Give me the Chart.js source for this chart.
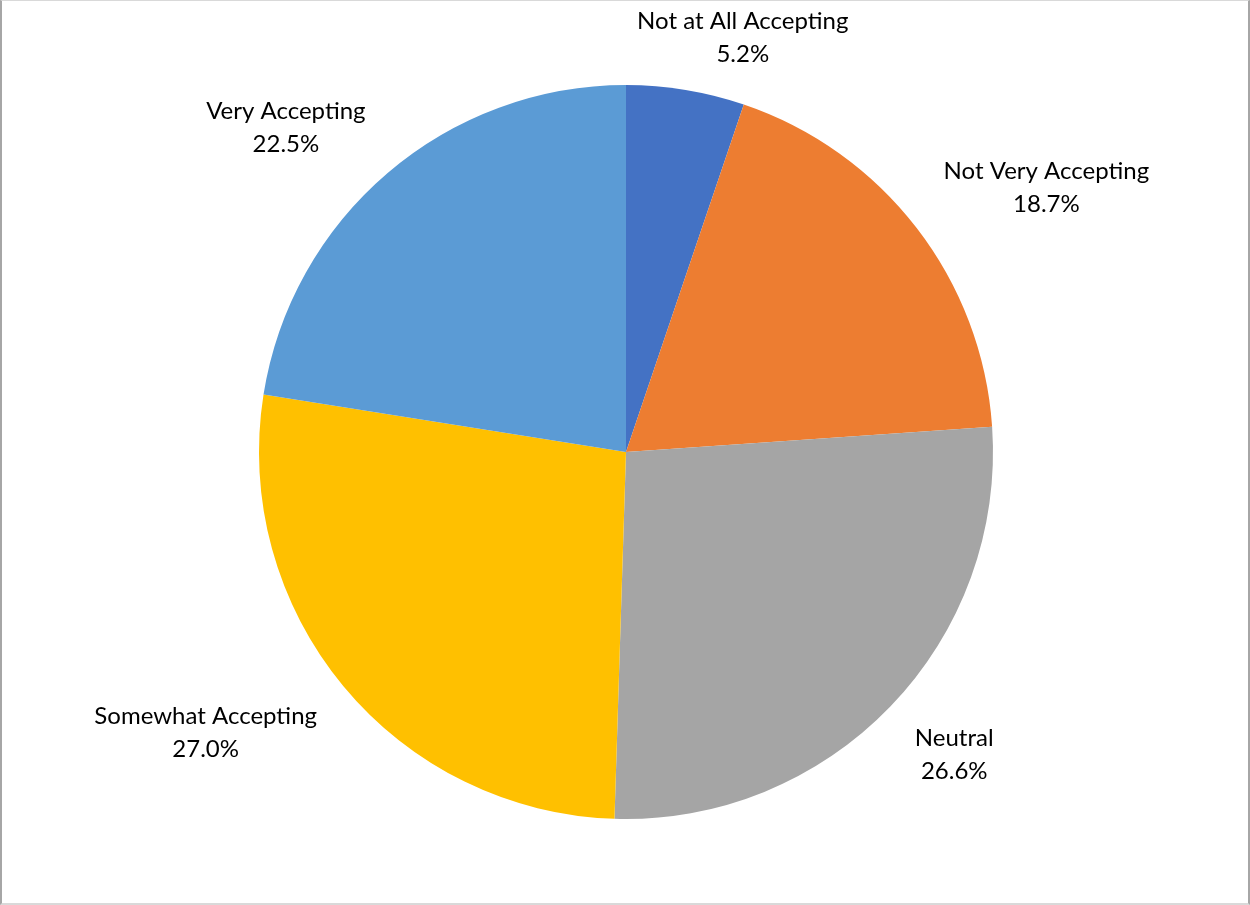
<!DOCTYPE html>
<html>
<head>
<meta charset="utf-8">
<script src="https://cdn.jsdelivr.net/npm/chart.js@4/dist/chart.umd.min.js"></script>
<style>
  html, body { margin: 0; padding: 0; background: #fff; }
  #wrap {
    position: relative; width: 1250px; height: 905px; box-sizing: border-box;
    border-top: 1px solid #d9d9d9; border-bottom: 2px solid #d9d9d9;
    border-left: 2px solid #a6a6a6; border-right: 2px solid #a6a6a6;
  }
  canvas { display: block; }
</style>
</head>
<body>
<div id="wrap"><canvas id="c" width="1246" height="902"></canvas></div>
<script>
const categories = ["Not at All Accepting", "Not Very Accepting", "Neutral", "Somewhat Accepting", "Very Accepting"];
const values = [5.2, 18.7, 26.6, 27.0, 22.5];
const valueLabels = ["5.2%", "18.7%", "26.6%", "27.0%", "22.5%"];
const colors = ["#4472C4", "#ED7D31", "#A5A5A5", "#FFC000", "#5B9BD5"];

const outsideLabels = {
  id: 'outsideLabels',
  afterDatasetsDraw(chart) {
    const ctx = chart.ctx;
    const meta = chart.getDatasetMeta(0);
    ctx.save();
    ctx.font = '24px Lato, "Open Sans", sans-serif';
    ctx.fillStyle = '#000';
    ctx.textAlign = 'center';
    ctx.textBaseline = 'middle';
    const lineGap = 33;
    meta.data.forEach((arc, i) => {
      const p = arc.getProps(['x', 'y', 'startAngle', 'endAngle', 'outerRadius'], true);
      const mid = (p.startAngle + p.endAngle) / 2;
      const c = Math.cos(mid), s = Math.sin(mid);
      const r = p.outerRadius + 34;
      const ax = p.x + c * r, ay = p.y + s * r;
      const l1 = categories[i], l2 = valueLabels[i];
      const w = Math.max(ctx.measureText(l1).width, ctx.measureText(l2).width);
      const h = 44;
      const fx = Math.min(1, Math.abs(c) * 3) * Math.sign(c);
      const fy = Math.min(1, Math.abs(s) * 3) * Math.sign(s);
      const cx = ax + fx * w / 2;
      const cy = ay + fy * h / 2 + 3;
      ctx.fillText(l1, cx, cy - lineGap / 2);
      ctx.fillText(l2, cx, cy + lineGap / 2);
    });
    ctx.restore();
  }
};

new Chart(document.getElementById('c'), {
  type: 'pie',
  data: {
    labels: categories,
    datasets: [{ data: values, backgroundColor: colors, borderWidth: 0 }]
  },
  options: {
    responsive: false,
    animation: false,
    layout: { padding: { top: 84, bottom: 84, left: 257, right: 255 } },
    plugins: { legend: { display: false }, tooltip: { enabled: false } }
  },
  plugins: [outsideLabels]
});
</script>
</body>
</html>
